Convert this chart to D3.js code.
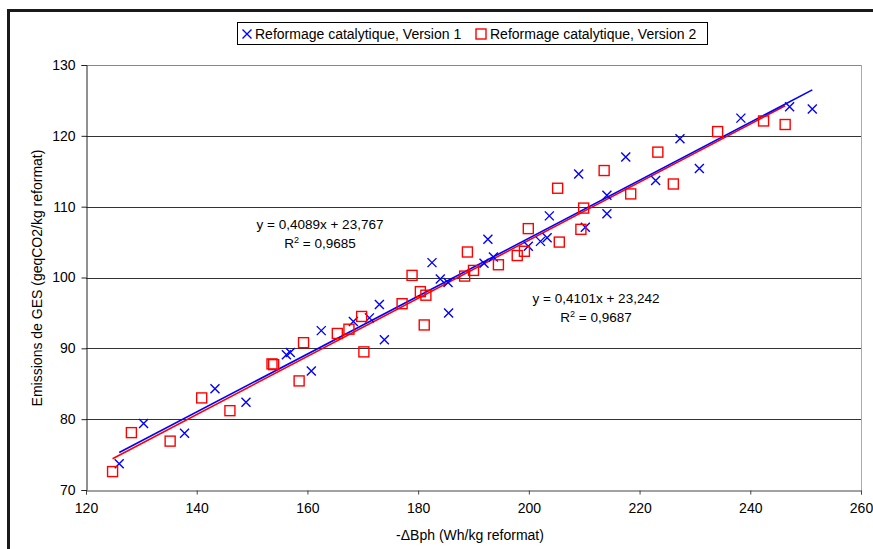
<!DOCTYPE html>
<html><head><meta charset="utf-8">
<script src="https://cdn.jsdelivr.net/npm/d3@7"></script>
<style>body{margin:0;background:#fff}svg{display:block}text{font-family:Arial,"Liberation Sans",sans-serif;fill:#000}</style>
</head><body>
<svg id="c" width="873" height="549"></svg>
<script>
// Series 1: Reformage catalytique, Version 1 (blue crosses)
const v1X = [126.0,130.4,137.8,143.3,148.9,156.2,156.9,160.7,162.5,168.3,171.2,173.0,173.9,182.5,184.0,185.4,185.5,191.9,192.6,193.6,199.9,202.1,203.3,203.7,209.0,210.2,214.1,214.1,217.5,222.9,227.3,230.8,238.3,247.1,251.2];
const v1Y = [73.7,79.4,78.0,84.3,82.4,89.1,89.4,86.8,92.5,93.8,94.3,96.2,91.2,102.1,99.8,99.3,95.0,102.0,105.4,102.9,104.4,105.1,105.6,108.7,114.6,107.1,111.6,109.0,117.0,113.7,119.6,115.4,122.5,124.1,123.8];
// Series 2: Reformage catalytique, Version 2 (red squares)
const v2X = [124.8,128.2,135.2,140.9,146.0,153.6,153.9,158.5,159.3,165.4,167.5,169.8,170.2,177.1,178.9,180.4,181.1,181.4,188.4,188.9,190.0,194.5,197.9,199.2,199.9,205.2,205.5,209.4,209.9,213.6,218.4,223.3,226.1,234.1,242.4,246.3];
const v2Y = [72.6,78.1,76.9,83.0,81.2,87.8,87.7,85.4,90.8,92.1,92.7,94.5,89.5,96.3,100.3,98.0,93.3,97.5,100.2,103.6,101.0,101.8,103.1,103.7,106.9,112.6,105.0,106.8,109.8,115.1,111.8,117.7,113.2,120.6,122.1,121.6];
// Linear trend lines (from the chart's equations)
const trendSlope = [0.4089, 0.4101];
const trendIntercept = [23.767, 23.242];
const trendLabels = [["y = 0,4089x + 23,767", "0,9685"], ["y = 0,4101x + 23,242", "0,9687"]];
const seriesNames = ["Reformage catalytique, Version 1", "Reformage catalytique, Version 2"];
const colors = ["#0000ff", "#ff0000"];
const xTicks = [120,140,160,180,200,220,240,260];
const yTicks = [70,80,90,100,110,120,130];
const xTitle = "-\u0394Bph (Wh/kg reformat)";
const yTitle = "Emissions de GES (geqCO2/kg reformat)";

const FS = "14px";
const svg = d3.select("#c");
const x = d3.scaleLinear().domain([120,260]).range([86,861]);
const y = d3.scaleLinear().domain([70,130]).range([490,65]);

// outer frame (top and left only visible)
svg.append("line").attr("x1",8.5).attr("x2",873).attr("y1",10.5).attr("y2",10.5).attr("stroke","#1a1a1a").attr("stroke-width",3);
svg.append("line").attr("x1",8.5).attr("x2",8.5).attr("y1",9).attr("y2",549).attr("stroke","#1a1a1a").attr("stroke-width",3);

// gridlines
svg.append("g").selectAll("line").data(yTicks.filter(d=>d>70)).join("line")
  .attr("x1",x(120)).attr("x2",x(260))
  .attr("y1",d=>Math.round(y(d))+0.5).attr("y2",d=>Math.round(y(d))+0.5)
  .attr("stroke",d=>d===130?"#888":"#333").attr("stroke-width",1);
// right border
svg.append("line").attr("x1",x(260)+0.5).attr("x2",x(260)+0.5).attr("y1",y(130)).attr("y2",y(70)+4).attr("stroke","#aaa");

// axes
const ax = svg.append("g").attr("transform",`translate(0,${y(70)+0.5})`)
  .call(d3.axisBottom(x).tickValues(xTicks).tickSize(4).tickPadding(9).tickFormat(d3.format("d")));
ax.select(".domain").attr("stroke","#444");
ax.selectAll(".tick line").attr("stroke","#444");
ax.selectAll("text").style("font-size",FS).style("font-family","Arial, 'Liberation Sans', sans-serif");
const ay = svg.append("g").attr("transform",`translate(${x(120)+0.5},0)`)
  .call(d3.axisLeft(y).tickValues(yTicks).tickSize(5).tickPadding(6).tickFormat(d3.format("d")));
ay.select(".domain").attr("stroke","#222");
ay.selectAll(".tick line").attr("stroke","#222");
ay.selectAll("text").style("font-size",FS).style("font-family","Arial, 'Liberation Sans', sans-serif");

// axis titles
svg.append("text").attr("x",470).attr("y",540).attr("text-anchor","middle").style("font-size",FS).text(xTitle);
svg.append("text").attr("transform","translate(42,278) rotate(-90)").attr("text-anchor","middle").style("font-size",FS).text(yTitle);

// trend lines
const seriesX = [v1X, v2X];
[1,0].forEach(i=>{
  const xs = seriesX[i];
  const x0 = d3.min(xs), x1 = d3.max(xs);
  svg.append("line")
    .attr("x1",x(x0)).attr("y1",y(trendSlope[i]*x0+trendIntercept[i]))
    .attr("x2",x(x1)).attr("y2",y(trendSlope[i]*x1+trendIntercept[i]))
    .attr("stroke",colors[i]).attr("stroke-width",1.6);
});

// markers
const crossPath = "M-4.5,-4.5L4.5,4.5M-4.5,4.5L4.5,-4.5";
svg.append("g").selectAll("path").data(v1X.map((d,i)=>[d,v1Y[i]])).join("path")
  .attr("transform",d=>`translate(${x(d[0])},${y(d[1])})`)
  .attr("d",crossPath).attr("stroke",colors[0]).attr("stroke-width",1.4).attr("fill","none");
svg.append("g").selectAll("rect").data(v2X.map((d,i)=>[d,v2Y[i]])).join("rect")
  .attr("x",d=>x(d[0])-5).attr("y",d=>y(d[1])-5).attr("width",10).attr("height",10)
  .attr("stroke",colors[1]).attr("stroke-width",1.4).attr("fill","none");

// equation labels
const labPos = [[320,229],[596,303]];
trendLabels.forEach((t,i)=>{
  svg.append("text").attr("x",labPos[i][0]).attr("y",labPos[i][1]).attr("text-anchor","middle").style("font-size","13.5px").text(t[0]);
  const r = svg.append("text").attr("x",labPos[i][0]).attr("y",labPos[i][1]+19).attr("text-anchor","middle").style("font-size","13.5px");
  r.append("tspan").text("R");
  r.append("tspan").attr("dy",-5).style("font-size","9px").text("2");
  r.append("tspan").attr("dy",5).text(" = " + t[1]);
});

// legend
const lg = svg.append("g");
lg.append("rect").attr("x",237.5).attr("y",22.5).attr("width",470).attr("height",22).attr("fill","#fff").attr("stroke","#000");
lg.append("path").attr("transform","translate(247,34)").attr("d",crossPath).attr("stroke",colors[0]).attr("stroke-width",1.4).attr("fill","none");
lg.append("text").attr("x",255).attr("y",39).style("font-size",FS).text(seriesNames[0]);
lg.append("rect").attr("x",476).attr("y",29).attr("width",10).attr("height",10).attr("stroke",colors[1]).attr("stroke-width",1.4).attr("fill","none");
lg.append("text").attr("x",490).attr("y",39).style("font-size",FS).text(seriesNames[1]);
</script>
</body></html>
